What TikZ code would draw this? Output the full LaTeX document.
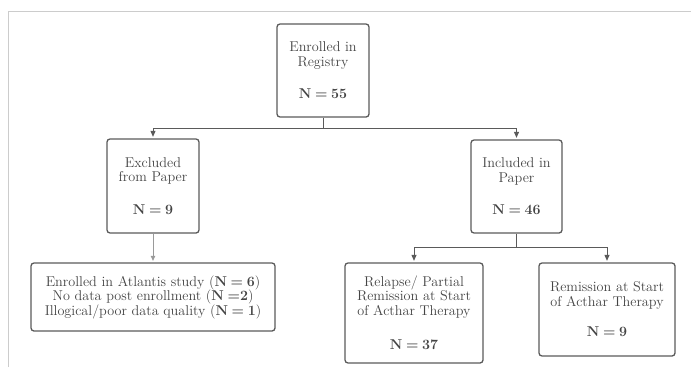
\documentclass[tikz,border=0pt]{standalone}
\usepackage{fontspec}
\usetikzlibrary{arrows.meta,calc}
\definecolor{boxline}{HTML}{5A5A5A}
\definecolor{txt}{HTML}{444444}
\definecolor{frame}{HTML}{CCCCCC}
\definecolor{lightarr}{HTML}{9A9A9A}
\newcommand{\nval}[2]{\textbf{N\hspace{0.26em}=\hspace{#1}#2}}
\tikzset{
  flowbox/.style={draw=boxline, line width=1.3pt, rounded corners=3pt, inner sep=0pt,
    align=center, text=txt, font=\fontsize{14.2}{14.5}\selectfont},
  conn/.style={draw=boxline, line width=1pt},
  arr/.style={conn, -{Triangle[width=5pt,length=6pt]}, shorten >=1.5pt},
  greyarr/.style={draw=lightarr, line width=0.9pt, -{Triangle[width=4.5pt,length=5pt]}, shorten >=1.5pt}
}
\begin{document}
\begin{tikzpicture}[x=1pt,y=-1pt]
\useasboundingbox (0,0) rectangle (691,367);
\draw[frame, line width=1pt] (8,367) -- (8,11.5) -- (691,11.5);

\node[flowbox, minimum width=92pt, minimum height=93pt] (top) at (323,70.5)
  {Enrolled in\\Registry\\[18pt]\nval{0.26em}{55}};
\node[flowbox, minimum width=92pt, minimum height=94pt] (excl) at (153,186)
  {Excluded\\from Paper\\[18pt]\nval{0.26em}{9}};
\node[flowbox, minimum width=91pt, minimum height=93pt] (incl) at (516.5,186.5)
  {Included in\\Paper\\[18pt]\nval{0.26em}{46}};
\node[flowbox, minimum width=244pt, minimum height=68pt] (reasons) at (153,297)
  {Enrolled in Atlantis study (\nval{0.26em}{6})\\No data post enrollment (\nval{0em}{2})\\Illogical/poor data quality (\nval{0.26em}{1})};
\node[flowbox, minimum width=138pt, minimum height=100pt] (relapse) at (414,313)
  {Relapse/ Partial\\Remission at Start\\of Acthar Therapy\\[20pt]\nval{0.26em}{37}};
\node[flowbox, minimum width=136pt, minimum height=93pt] (remis) at (607,309.5)
  {Remission at Start\\of Acthar Therapy\\[16pt]\nval{0.26em}{9}};

\coordinate (j1) at ($(top.south)+(0,11)$);
\coordinate (j2) at ($(incl.south)+(0,14)$);
\draw[conn] (top.south) -- (j1);
\draw[arr] (j1) -| (excl.north);
\draw[arr] (j1) -| (incl.north);
\draw[conn] (incl.south) -- (j2);
\draw[arr] (j2) -| (relapse.north);
\draw[arr] (j2) -| (remis.north);
\draw[greyarr] (excl.south) -- (reasons.north);
\end{tikzpicture}
\end{document}
